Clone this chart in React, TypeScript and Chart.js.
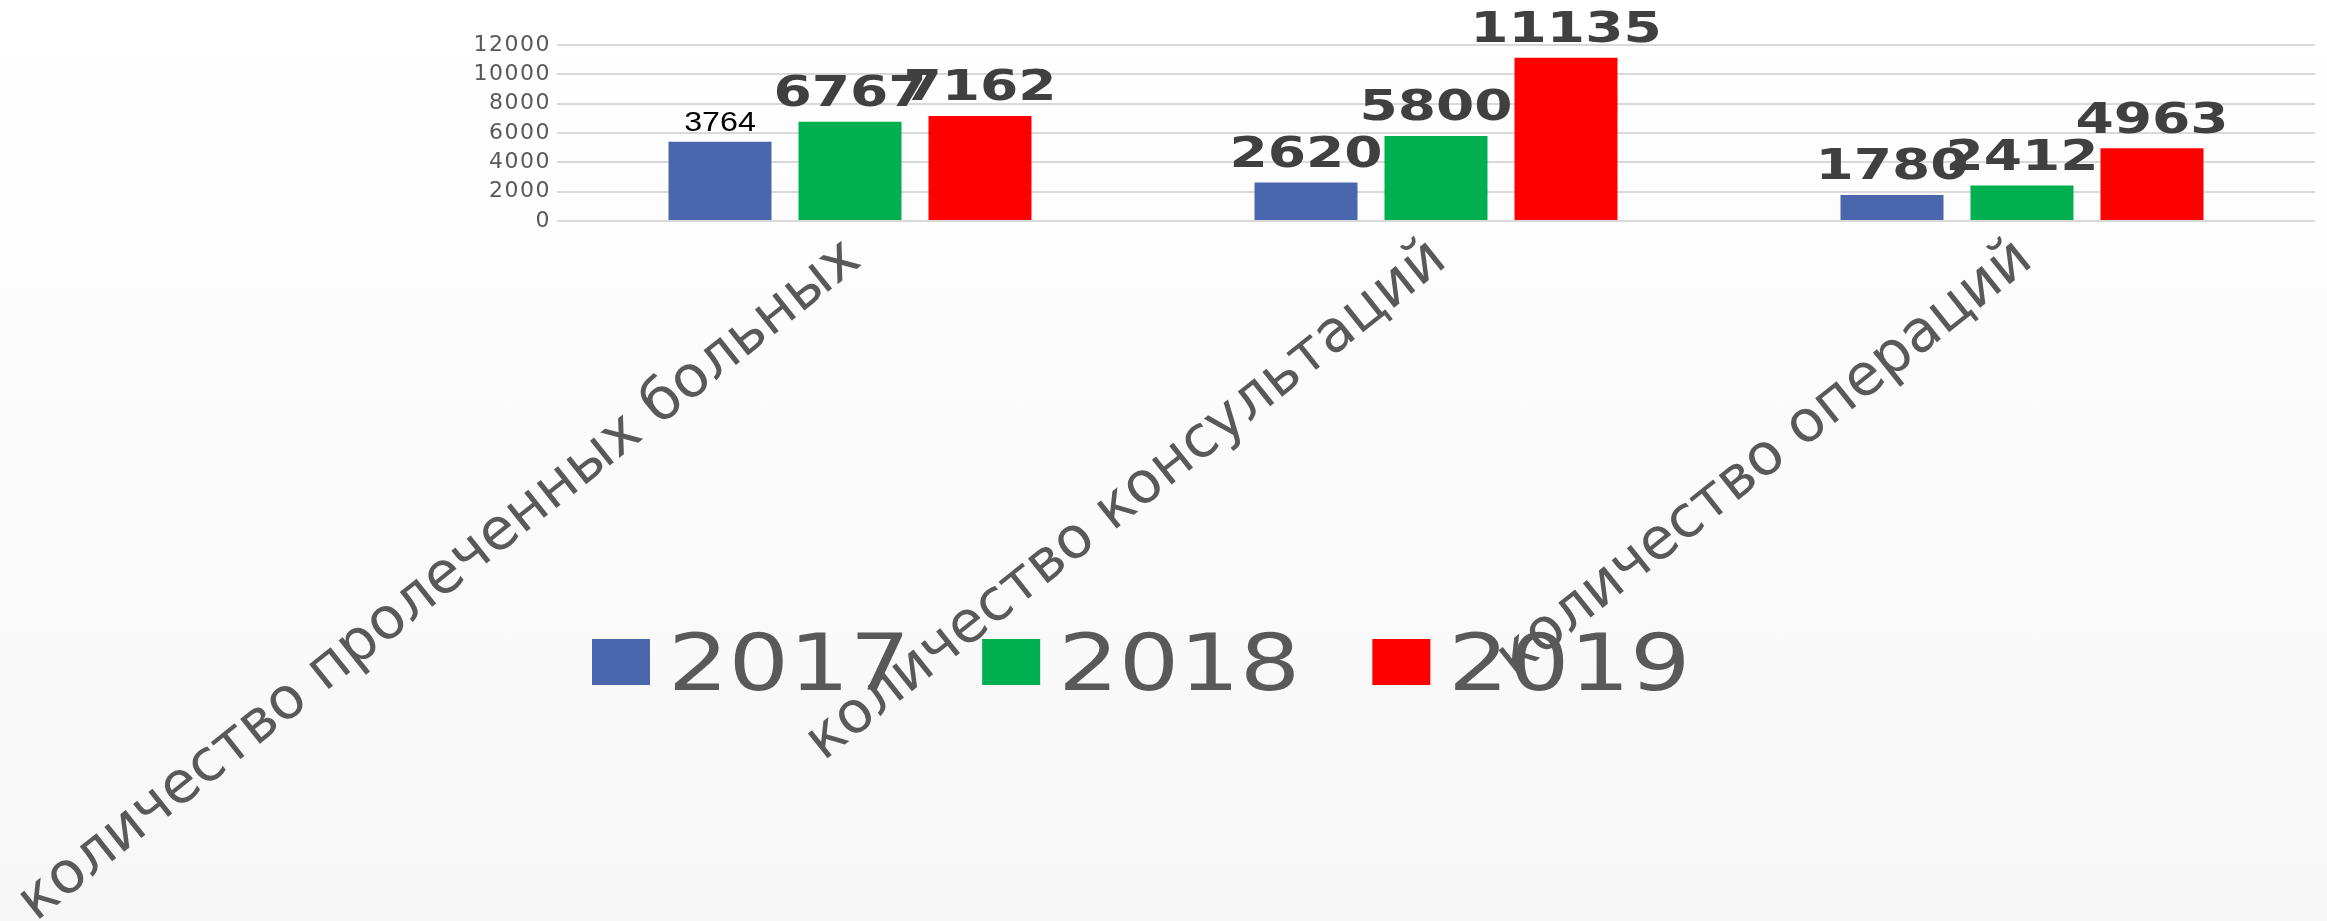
import React, { useEffect, useRef } from "react";
import { Chart, registerables } from "chart.js";

Chart.register(...registerables);

// ---- data ----
const categories = [
  "количество пролеченных больных",
  "количество консультаций",
  "количество операций",
];
const seriesNames = ["2017", "2018", "2019"];
const seriesColors = ["#4A66AC", "#00B050", "#FF0000"];
const values2017 = [5400, 2620, 1780];
const values2018 = [6767, 5800, 2412];
const values2019 = [7162, 11135, 4963];
const valueLabels2017 = ["3764", "2620", "1780"];
const valueLabels2018 = ["6767", "5800", "2412"];
const valueLabels2019 = ["7162", "11135", "4963"];
const yTickValues = [0, 2000, 4000, 6000, 8000, 10000, 12000];

const W = 2327;
const H = 921;

export default function App() {
  const ref = useRef<HTMLCanvasElement>(null);

  useEffect(() => {
    const canvas = ref.current;
    if (!canvas) return;
    const seriesValues = [values2017, values2018, values2019];
    const valueLabels = [valueLabels2017, valueLabels2018, valueLabels2019];

    const overlay = {
      id: "overlay",
      beforeDraw(chart: any) {
        chart.ctx.letterSpacing = "1.5px";
      },
      afterDraw(chart: any) {
        const ctx = chart.ctx as CanvasRenderingContext2D;
        ctx.save();
        (ctx as any).letterSpacing = "0px";

        // value labels above bars
        chart.data.datasets.forEach((_ds: any, i: number) => {
          const meta = chart.getDatasetMeta(i);
          meta.data.forEach((bar: any, j: number) => {
            const text = valueLabels[i][j];
            const plain = i === 0 && j === 0;
            ctx.save();
            ctx.translate(bar.x, bar.y - (plain ? 11 : 15.5));
            ctx.scale(plain ? 1.15 : 1.28, 1);
            ctx.font = plain ? "28px 'Liberation Sans'" : "bold 43px 'DejaVu Sans'";
            ctx.fillStyle = plain ? "#000000" : "#404040";
            ctx.textAlign = "center";
            ctx.textBaseline = "alphabetic";
            ctx.fillText(text, 0, 0);
            ctx.restore();
          });
        });

        // rotated category labels
        const xs = chart.scales.x;
        const angle = (38.5 * Math.PI) / 180;
        (chart.data.labels as string[]).forEach((lab, j) => {
          const px = xs.getPixelForValue(j);
          ctx.save();
          ctx.translate(px + 13, chart.chartArea.bottom + 43);
          ctx.rotate(-angle);
          ctx.font = "58px 'DejaVu Sans'";
          ctx.fillStyle = "#595959";
          ctx.textAlign = "right";
          ctx.textBaseline = "alphabetic";
          ctx.fillText(lab, 0, 0);
          ctx.restore();
        });

        // legend
        const boxW = 58;
        const boxH = 46;
        const gap = 18;
        const spacing = 72;
        const sx = 1.22;
        let x = 592;
        const boxTop = 639;
        const baseline = 690;
        ctx.font = "78px 'DejaVu Sans'";
        chart.data.datasets.forEach((ds: any) => {
          ctx.fillStyle = ds.backgroundColor;
          ctx.fillRect(x, boxTop, boxW, boxH);
          const tx = x + boxW + gap;
          const tw = ctx.measureText(ds.label).width * sx;
          ctx.save();
          ctx.translate(tx, baseline);
          ctx.scale(sx, 1);
          ctx.fillStyle = "#595959";
          ctx.textAlign = "left";
          ctx.textBaseline = "alphabetic";
          ctx.fillText(ds.label, 0, 0);
          ctx.restore();
          x = tx + tw + spacing;
        });

        ctx.restore();
      },
    };

    const chart = new Chart(canvas, {
      type: "bar",
      data: {
        labels: categories,
        datasets: seriesNames.map((name, i) => ({
          label: name,
          data: seriesValues[i],
          backgroundColor: seriesColors[i],
          borderWidth: 0,
          categoryPercentage: 0.6655,
          barPercentage: 0.7923,
        })),
      },
      options: {
        responsive: false,
        animation: false,
        devicePixelRatio: 1,
        layout: { padding: { top: 45, right: 12, bottom: 0, left: 0 } },
        plugins: {
          legend: { display: false },
          tooltip: { enabled: false },
        },
        scales: {
          x: {
            grid: { display: false },
            border: { display: false },
            ticks: { display: false },
            afterFit: (s: any) => {
              s.height = 700;
            },
          },
          y: {
            min: 0,
            max: 12000,
            afterBuildTicks: (s: any) => {
              s.ticks = yTickValues.map((v) => ({ value: v }));
            },
            grid: { color: "#d9d9d9", lineWidth: 2, drawTicks: false },
            border: { display: false },
            ticks: {
              autoSkip: false,
              font: { family: "'DejaVu Sans'", size: 22 },
              color: "#595959",
              padding: 6,
              callback: (v: any) => String(v),
            },
            afterFit: (s: any) => {
              s.width = 557;
            },
          },
        },
      },
      plugins: [overlay],
    } as any);

    return () => chart.destroy();
  }, []);

  return (
    <div
      style={{
        position: "fixed",
        left: 0,
        top: 0,
        width: W,
        height: H,
        background: "linear-gradient(#ffffff, #f7f7f7)",
      }}
    >
      <canvas ref={ref} width={W} height={H} style={{ display: "block", width: W, height: H }} />
    </div>
  );
}
